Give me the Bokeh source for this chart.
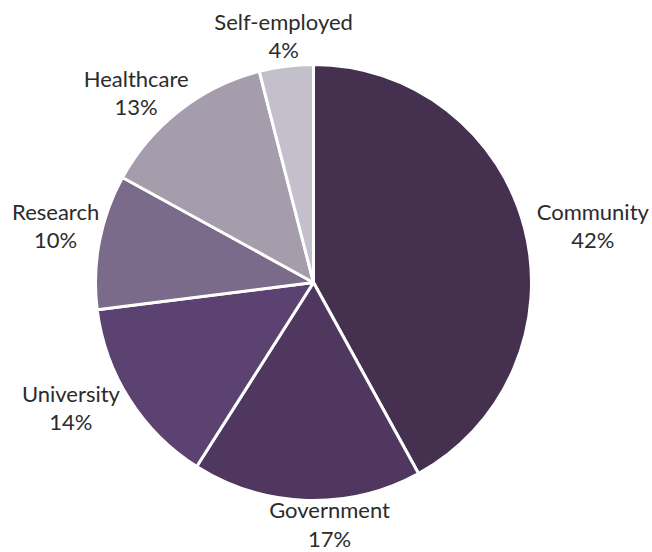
import numpy as np
from bokeh.plotting import figure
from bokeh.models import ColumnDataSource
from bokeh.core.properties import value
from bokeh.embed import file_html
from bokeh.resources import INLINE

categories = ["Community", "Government", "University", "Research", "Healthcare", "Self-employed"]
shares = [42, 17, 14, 10, 13, 4]
colors = ["#45304f", "#4f3760", "#5c4270", "#7b6b8a", "#a59dab", "#c4c0cb"]

# label placement tweaks (angle shift from slice middle, in degrees; distance from centre)
label_shift_deg = [-2.9, 5.6, -5.1, -1.6, 5.2, -0.3]
label_dist = [285, 242, 273, 264, 260, 249]

W, H = 652, 552
cx, cy, R = 313, 270, 218

vals = np.array(shares, dtype=float)
frac = vals / vals.sum()
cum = np.concatenate([[0], np.cumsum(frac)])
start = np.pi / 2 - cum[1:] * 2 * np.pi
end = np.pi / 2 - cum[:-1] * 2 * np.pi
mid = (start + end) / 2

p = figure(width=W, height=H, x_range=(0, W), y_range=(0, H),
           output_backend="svg", toolbar_location=None, min_border=0)
p.axis.visible = False
p.grid.visible = False
p.outline_line_color = None
p.background_fill_color = "white"

src = ColumnDataSource(dict(start=start, end=end, color=colors))
p.wedge(x=cx, y=cy, radius=R, start_angle="start", end_angle="end",
        fill_color="color", line_color="white", line_width=3, source=src)

labels = [f"{c}\n{s}%" for c, s in zip(categories, shares)]
ang = mid + np.radians(label_shift_deg)
dist = np.array(label_dist, dtype=float)
lx = cx + dist * np.cos(ang)
ly = cy + dist * np.sin(ang)
lsrc = ColumnDataSource(dict(x=lx, y=ly, t=labels))
p.text(x="x", y="y", text="t", source=lsrc, text_align="center",
       text_baseline="middle", text_font=value("Lato"), text_font_size="22px",
       text_color="#2b2b2b", text_line_height=1.05)

open("out.html", "w").write(file_html(p, INLINE))
